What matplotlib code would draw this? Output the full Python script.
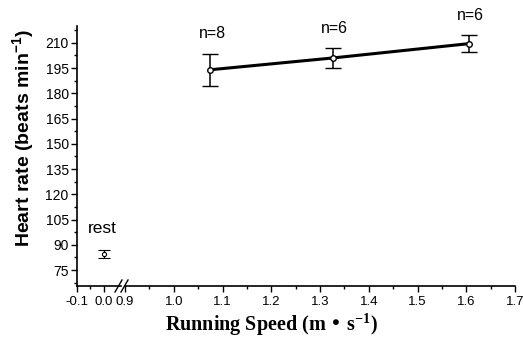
import numpy as np
import matplotlib
matplotlib.use("Agg")
import matplotlib.pyplot as plt
from matplotlib.ticker import MultipleLocator, FixedLocator

plt.rcParams["font.family"] = ["Liberation Sans", "DejaVu Sans"]

# running data
speed = [1.075, 1.326, 1.605]
hr_mean = [194.0, 201.0, 209.5]
hr_err = [9.5, 5.8, 5.0]
n_labels = ["n=8", "n=6", "n=6"]

# resting value
rest_x = [0.0]
rest_mean = [84.5]
rest_err = [2.3]

W, H = 523, 349
fig = plt.figure(figsize=(W / 100, H / 100), dpi=100)

y_bot, y_top = 286, 26
ax_l = fig.add_axes([77 / W, 1 - y_bot / H, (121 - 77) / W, (y_bot - y_top) / H])
ax_r = fig.add_axes([125 / W, 1 - y_bot / H, (515 - 125) / W, (y_bot - y_top) / H])

for ax in (ax_l, ax_r):
    ax.set_ylim(65.5, 220)
    ax.spines["top"].set_visible(False)
    ax.spines["right"].set_visible(False)
    ax.spines["bottom"].set_linewidth(1.2)
    ax.tick_params(axis="x", which="major", length=4, width=1, labelsize=9.5, pad=3)
    ax.tick_params(axis="x", which="minor", length=2.5, width=1)
    ax.patch.set_alpha(0)

ax_r.spines["left"].set_visible(False)
ax_r.tick_params(axis="y", left=False, labelleft=False, which="both")

ax_l.spines["left"].set_linewidth(1.2)
ax_l.set_yticks(np.arange(75, 211, 15))
ax_l.yaxis.set_minor_locator(FixedLocator(np.arange(67.5, 220, 7.5)))
ax_l.tick_params(axis="y", which="major", length=4, width=1, labelsize=10, pad=2)
ax_l.tick_params(axis="y", which="minor", length=2.5, width=1)

ax_l.set_xlim(-0.1, 0.065)
ax_l.set_xticks([-0.1, 0.0])
ax_l.set_xticklabels(["-0.1", "0.0"])
ax_l.xaxis.set_minor_locator(FixedLocator([-0.05]))

ax_r.set_xlim(0.9, 1.7)
ax_r.xaxis.set_minor_locator(MultipleLocator(0.05))
ax_r.set_xticks(np.round(np.arange(0.9, 1.71, 0.1), 1))
ax_r.set_xticklabels([f"{v:.1f}" for v in np.arange(0.9, 1.71, 0.1)])

ax_r.errorbar(speed, hr_mean, yerr=hr_err, color="black", lw=2.2,
              marker="o", ms=4, mfc="white", mec="black", mew=1,
              ecolor="black", elinewidth=1.1, capsize=6, capthick=1.1,
              clip_on=False, zorder=3)
for x, y, e, t in zip(speed, hr_mean, hr_err, n_labels):
    ax_r.text(x + 0.004, y + e + 7.5, t, ha="center", va="bottom", fontsize=11.5)

ax_l.errorbar(rest_x, rest_mean, yerr=rest_err, color="black", lw=0,
              marker="o", ms=3, mfc="white", mec="black", mew=0.8,
              ecolor="black", elinewidth=1, capsize=4, capthick=1.2,
              clip_on=False)
ax_l.text(rest_x[0] - 0.005, rest_mean[0] + 10.5, "rest", ha="center",
          va="bottom", fontsize=12.5)

# axis break marks
for dx in (-4, 2):
    fig.add_artist(plt.Line2D([(119 + dx) / W, (126 + dx) / W],
                              [1 - 292 / H, 1 - 280 / H],
                              color="black", lw=1))

fig.text(24 / W, 1 - 138 / H, "Heart rate (beats min$^{\\mathregular{-1}}$)",
         rotation=90, ha="center", va="center", fontsize=14, fontweight="bold")
fig.text(272 / W, 1 - 325 / H, "Running Speed (m \u2022 s$^{\\mathregular{-1}}$)",
         ha="center", va="center", fontsize=14.5, fontweight="bold",
         family=["Liberation Serif", "DejaVu Serif"])

fig.savefig("out.png", dpi=100)
